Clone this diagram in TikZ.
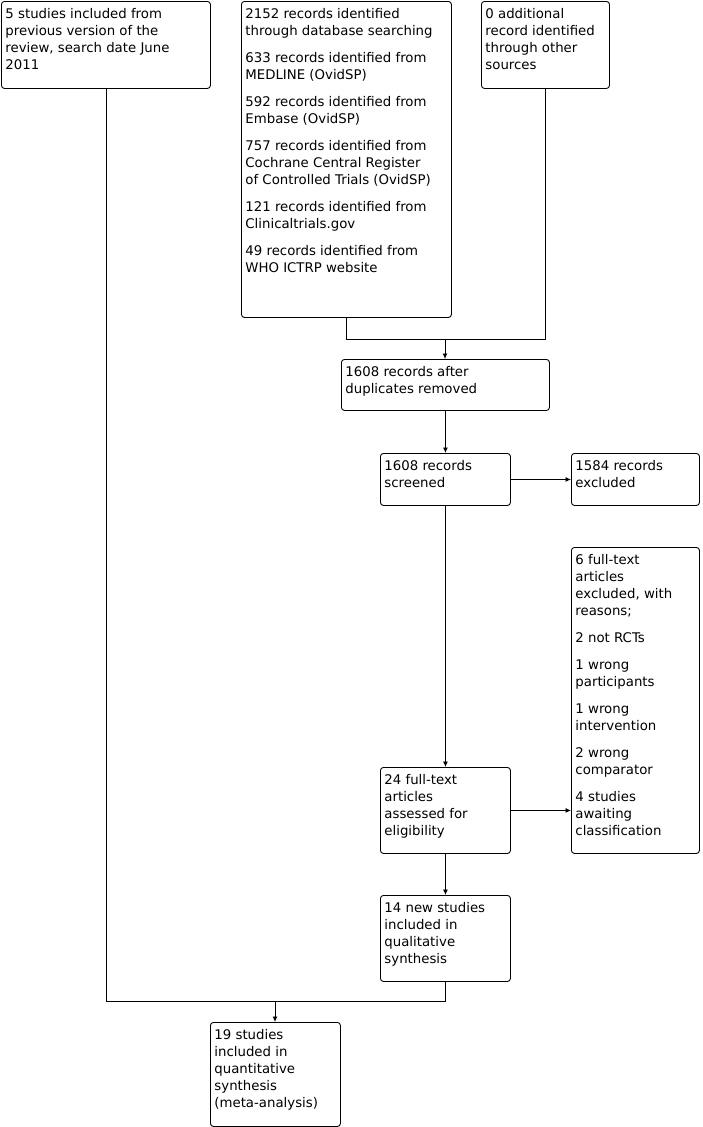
\documentclass[tikz,border=0pt]{standalone}
\usepackage{fontspec}
\setmainfont{DejaVu Sans}
\usetikzlibrary{arrows.meta}
\tikzset{
  fbox/.style={draw, line width=0.9pt, rounded corners=3pt, anchor=north west, inner xsep=4pt, inner ysep=0pt},
  conn/.style={line width=0.9pt},
  arr/.style={line width=0.9pt, -{Latex[length=5.5pt,width=5pt]}}
}
\newcommand{\flowbox}[6]{%
  \node[fbox] (#1) at (#2pt,-#3pt) {\parbox[t][#5pt][t]{\dimexpr#4pt-8pt\relax}{%
    \fontsize{13.3}{17}\selectfont\raggedright\setlength{\parskip}{10pt}%
    \rule{0pt}{17.3pt}#6}};}
\begin{document}
\begin{tikzpicture}[x=1pt,y=1pt]
\useasboundingbox (0,0) rectangle (702,-1127);
\flowbox{A}{1}{1}{209}{87}{5 studies included from\\previous version of the\\review, search date June\\2011}
\flowbox{B}{241}{1}{210}{316}{2152 records identified\\through database searching\par
633 records identified from\\MEDLINE (OvidSP)\par
592 records identified from\\Embase (OvidSP)\par
757 records identified from\\Cochrane Central Register\\of Controlled Trials (OvidSP)\par
121 records identified from\\Clinicaltrials.gov\par
49 records identified from\\WHO ICTRP website}
\flowbox{C}{481}{1}{128}{87}{0 additional\\record identified\\through other\\sources}
\flowbox{D}{341}{359}{208}{51}{1608 records after\\duplicates removed}
\flowbox{E}{380}{453}{130}{52}{1608 records\\screened}
\flowbox{F}{571}{453}{128}{52}{1584 records\\excluded}
\flowbox{G}{571}{547}{128}{306}{6 full-text\\articles\\excluded, with\\reasons;\par
2 not RCTs\par
1 wrong\\participants\par
1 wrong\\intervention\par
2 wrong\\comparator\par
4 studies\\awaiting\\classification}
\flowbox{H}{380}{767}{130}{86}{24 full-text\\articles\\assessed for\\eligibility}
\flowbox{I}{380}{895}{130}{86}{14 new studies\\included in\\qualitative\\synthesis}
\flowbox{J}{210}{1022}{130}{104}{19 studies\\included in\\quantitative\\synthesis\\(meta-analysis)}
\coordinate (jt) at (445,-339);
\coordinate (jn) at (275,-1001);
\draw[conn] (B.south) |- (jt);
\draw[conn] (C.south) |- (jt);
\draw[arr] (jt) -- (jt |- D.north);
\draw[arr] (D.south) -- (D.south |- E.north);
\draw[arr] (E.east) -- (F.west);
\draw[arr] (E.south) -- (H.north);
\draw[arr] (H.east) -- (G.west |- H.east);
\draw[arr] (H.south) -- (I.north);
\draw[conn] (A.south) |- (jn);
\draw[conn] (I.south) |- (jn);
\draw[arr] (jn) -- (jn |- J.north);
\end{tikzpicture}
\end{document}
